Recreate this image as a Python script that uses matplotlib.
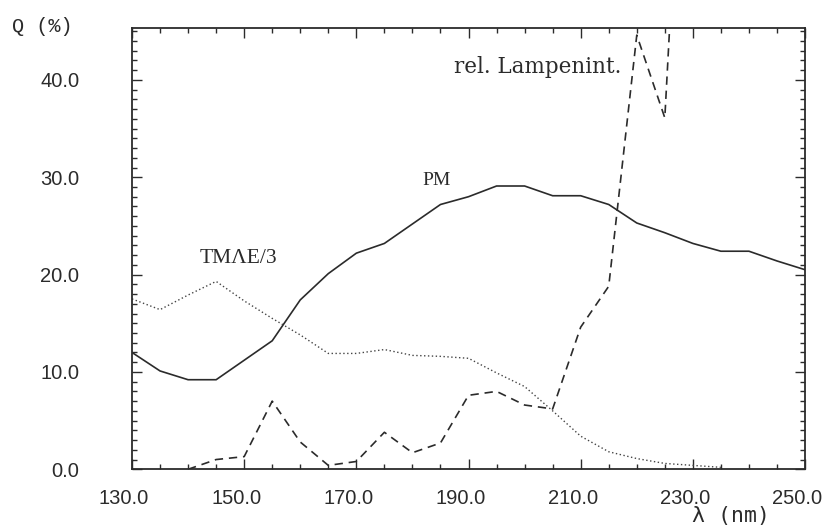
import matplotlib
matplotlib.use("Agg")
import matplotlib.pyplot as plt
from matplotlib.ticker import MultipleLocator, FormatStrFormatter
from matplotlib.transforms import ScaledTranslation

# ---- data ----
wavelength_pm = [130, 135, 140, 145, 150, 155, 160, 165, 170, 175, 180, 185, 190,
                 195, 200, 205, 210, 215, 220, 225, 230, 235, 240, 245, 250]
pm_values = [12.0, 10.1, 9.2, 9.2, 11.2, 13.2, 17.4, 20.1, 22.2, 23.2, 25.2, 27.2, 28.0,
             29.1, 29.1, 28.1, 28.1, 27.2, 25.3, 24.3, 23.2, 22.4, 22.4, 21.4, 20.5]

wavelength_tmae = [130, 135, 140, 145, 150, 155, 160, 165, 170, 175, 180, 185, 190,
                   195, 200, 205, 210, 215, 220, 225, 230, 235]
tmae_values = [17.5, 16.4, 17.9, 19.3, 17.3, 15.5, 13.8, 11.9, 11.9, 12.3, 11.7, 11.6, 11.4,
               9.9, 8.5, 6.0, 3.4, 1.8, 1.1, 0.6, 0.4, 0.2]

wavelength_lamp = [140, 145, 150, 155, 160, 165, 170, 175, 180, 185, 190, 195, 200,
                   205, 210, 215, 220, 225, 230]
lamp_values = [0.0, 1.0, 1.3, 7.0, 2.8, 0.4, 0.8, 3.8, 1.7, 2.7, 7.6, 8.0, 6.6,
               6.2, 14.6, 18.8, 44.6, 36.1, 90.0]

x_ticks = [130, 150, 170, 190, 210, 230, 250]
y_ticks = [0, 10, 20, 30, 40]

ink = "#2b2b2b"

fig = plt.figure(figsize=(8.25, 5.29), dpi=100)
ax = fig.add_axes([0.16, 0.1129, 0.8158, 0.8336])

ax.plot(wavelength_pm, pm_values, color=ink, lw=1.2, solid_joinstyle="miter")
ax.plot(wavelength_tmae, tmae_values, color="#444444", lw=1.0, linestyle=(0, (1, 1.8)))
ax.plot(wavelength_lamp, lamp_values, color=ink, lw=1.2, linestyle=(0, (5, 3.5)))

ax.set_xlim(130, 250)
ax.set_ylim(0, 45.3)

ax.set_xticks(x_ticks)
ax.xaxis.set_minor_locator(MultipleLocator(5))
ax.set_yticks(y_ticks)
ax.yaxis.set_minor_locator(MultipleLocator(1))
ax.xaxis.set_major_formatter(FormatStrFormatter("%.1f"))
ax.yaxis.set_major_formatter(FormatStrFormatter("%.1f"))

ax.tick_params(which="both", direction="in", top=True, right=True, color=ink, width=1.0)
ax.tick_params(which="major", length=7)
ax.tick_params(which="minor", length=3.5)
ax.tick_params(axis="x", which="major", pad=14, labelsize=14.5, labelcolor=ink)
ax.tick_params(axis="y", which="major", pad=38, labelsize=14.5, labelcolor=ink)

for lab in ax.get_xticklabels() + ax.get_yticklabels():
    lab.set_fontfamily("Liberation Sans")

offset = ScaledTranslation(-8 / 100, 0, fig.dpi_scale_trans)
for lab in ax.get_xticklabels():
    lab.set_transform(lab.get_transform() + offset)

for sp in ax.spines.values():
    sp.set_linewidth(1.3)
    sp.set_color(ink)

# axis labels (placed as in the reference)
fig.text(42 / 825, 1 - 27 / 529, "Q (%)", ha="center", va="center",
         fontsize=14.5, family="Liberation Mono", color=ink)
fig.text(731 / 825, 1 - 516 / 529, "λ (nm)", ha="center", va="center",
         fontsize=15.5, family="DejaVu Sans Mono", color=ink)

# curve annotations
ax.text(148.9, 21.7, "TMΛE/3", ha="center", va="center", fontsize=15.5,
        family="Liberation Serif", color=ink)
ax.text(184.3, 29.7, "PM", ha="center", va="center", fontsize=14,
        family="Liberation Serif", color=ink)
ax.text(202.3, 41.3, "rel. Lampenint.", ha="center", va="center", fontsize=15.5,
        family="DejaVu Serif", color=ink)

fig.savefig("out.png", dpi=100)
